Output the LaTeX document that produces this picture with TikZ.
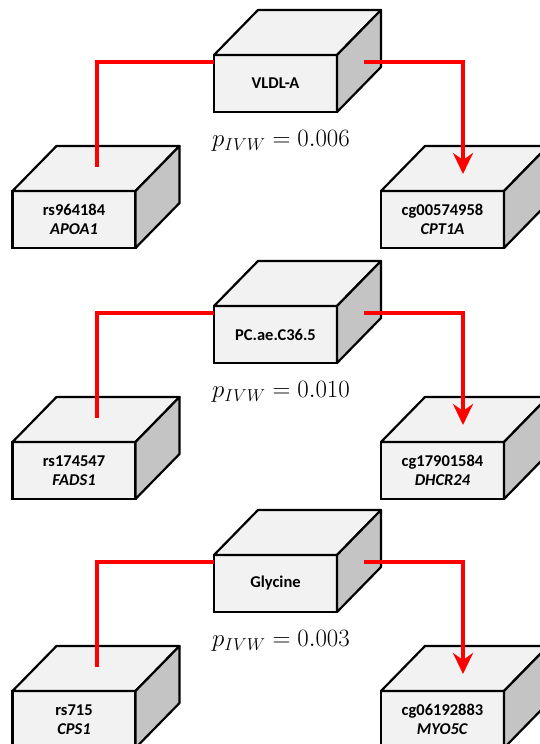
\documentclass[tikz,border=0pt]{standalone}
\usepackage{fontspec}
\setmainfont{Carlito}
\usetikzlibrary{arrows.meta,calc}
\definecolor{facelight}{HTML}{F2F2F2}
\definecolor{faceside}{HTML}{C4C4C4}
\definecolor{linkred}{HTML}{FF0000}
\tikzset{
  cubefront/.style={draw=black, line width=2.2pt, fill=facelight,
    minimum width=123pt, minimum height=57pt, inner sep=0pt, outer sep=0pt,
    font=\fontsize{16.5}{19}\selectfont\bfseries, align=center},
  cubetopface/.style={draw=black, line width=2.2pt, fill=facelight, line join=round},
  cubesideface/.style={draw=black, line width=2.2pt, fill=faceside, line join=round},
  link/.style={draw=linkred, line width=4pt},
  linkarrow/.style={link, -{Stealth[length=21pt,width=20pt,inset=7pt]}},
  pval/.style={font=\fontsize{23.5}{27}\selectfont},
}
% a box in perspective: front face is the node, top and side faces drawn from its anchors
\newcommand\drawcube[4]{%
  \node[cubefront] (#1) at (#2,#3) {#4};
  \path[cubetopface] (#1.north west) -- ++(44,45) -- ($(#1.north east)+(44,45)$) -- (#1.north east) -- cycle;
  \path[cubesideface] (#1.north east) -- ++(44,45) -- ($(#1.south east)+(44,45)$) -- (#1.south east) -- cycle;
}
% one triple: metabolite on top, SNP bottom left, CpG bottom right
\newcommand\mrpanel[8]{%
  \begin{scope}[yshift=-#1pt]
    \drawcube{s#2}{74}{-219.5}{#4\\\textit{#5}}
    \drawcube{c#2}{442.5}{-219.5}{#6\\\textit{#7}}
    \drawcube{t#2}{275.5}{-83.5}{#3}
    \coordinate (tl#2) at ([yshift=-7pt]t#2.north west);
    \coordinate (sl#2) at ([shift={(84pt,24pt)}]s#2.north west);
    \coordinate (tr#2) at ([shift={(27pt,-7pt)}]t#2.north east);
    \coordinate (cr#2) at ([shift={(82pt,17pt)}]c#2.north west);
    \draw[link] (tl#2) -| (sl#2);
    \draw[linkarrow] (tr#2) -| (cr#2);
    \node[pval] (p#2) at (281,-141) {$p_{IVW} = #8$};
  \end{scope}
}
\begin{document}
\begin{tikzpicture}[x=1pt,y=1pt]
  \useasboundingbox (0,0) rectangle (540,-744);
  \clip (0,0) rectangle (540,-744);
  \mrpanel{0}{1}{VLDL-A}{rs964184}{APOA1}{cg00574958}{CPT1A}{0.006}
  \mrpanel{251}{2}{PC.ae.C36.5}{rs174547}{FADS1}{cg17901584}{DHCR24}{0.010}
  \mrpanel{500}{3}{Glycine}{rs715}{CPS1}{cg06192883}{MYO5C}{0.003}
\end{tikzpicture}
\end{document}
